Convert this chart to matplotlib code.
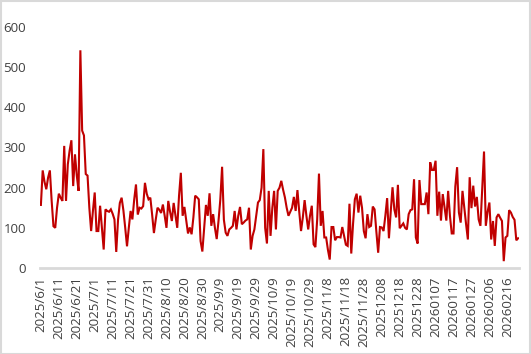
import matplotlib
matplotlib.use("Agg")
import matplotlib.pyplot as plt
from matplotlib.patches import Rectangle
import datetime as dt

start = dt.date(2025, 6, 1)

values = [
    157, 243, 215, 196, 225, 243, 167, 104, 100, 150,
    185, 175, 167, 304, 167, 258, 292, 318, 204, 283,
    230, 192, 542, 342, 330, 234, 230, 150, 92, 142,
    188, 92, 92, 155, 100, 46, 146, 142, 140, 146,
    135, 121, 40, 120, 162, 175, 143, 100, 54, 100,
    142, 121, 170, 208, 133, 150, 148, 154, 212, 185,
    171, 175, 133, 87, 120, 150, 145, 137, 158, 130,
    100, 167, 140, 117, 162, 130, 100, 180, 237, 130,
    152, 120, 86, 101, 84, 126, 180, 176, 171, 67,
    41, 100, 157, 130, 186, 105, 134, 100, 72, 117,
    170, 252, 120, 88, 80, 96, 100, 105, 142, 96,
    130, 152, 109, 113, 118, 121, 150, 46, 80, 96,
    130, 163, 169, 200, 296, 100, 61, 192, 80, 150,
    192, 96, 192, 200, 217, 195, 176, 150, 130, 140,
    150, 177, 142, 194, 140, 92, 126, 169, 130, 96,
    130, 155, 59, 52, 120, 235, 105, 142, 76, 76,
    45, 21, 102, 102, 69, 77, 77, 76, 102, 80,
    58, 55, 160, 36, 110, 171, 185, 138, 180, 150,
    92, 74, 134, 102, 105, 153, 146, 90, 38, 102,
    101, 92, 130, 174, 74, 140, 201, 146, 126, 207,
    99, 105, 111, 100, 96, 134, 144, 146, 221, 76,
    61, 219, 159, 159, 159, 188, 134, 263, 244, 244,
    267, 130, 190, 118, 184, 150, 118, 192, 130, 86,
    86, 203, 251, 138, 113, 192, 150, 109, 71, 226,
    149, 205, 153, 177, 121, 105, 200, 290, 105, 140,
    163, 71, 117, 55, 126, 134, 125, 117, 17, 76,
    80, 144, 138, 127, 120, 69, 74,
]

dates = [start + dt.timedelta(days=i) for i in range(len(values))]


def fmt(d):
    if d < dt.date(2025, 12, 1):
        return f"{d.year}/{d.month}/{d.day}"
    return d.strftime("%Y%m%d")


labels = [fmt(d) for d in dates]
y_ticks = [0, 100, 200, 300, 400, 500, 600]

plt.rcParams['font.family'] = ['Open Sans', 'DejaVu Sans']

fig = plt.figure(figsize=(5.31, 3.54), dpi=100)
ax = fig.add_axes([40 / 531, (354 - 268) / 354, 479 / 531, (268 - 27) / 354])

x = list(range(len(values)))
ax.plot(x, values, color='#C00000', linewidth=1.5, solid_joinstyle='miter')

ax.set_xlim(-0.5, len(values) - 0.5)
ax.set_ylim(0, 600)
ax.set_yticks(y_ticks)
ax.set_yticklabels([str(v) for v in y_ticks])
tick_pos = x[::10]
ax.set_xticks(tick_pos)
ax.set_xticklabels([labels[i] for i in tick_pos], rotation=90)

for s in ['top', 'right', 'left']:
    ax.spines[s].set_visible(False)
ax.spines['bottom'].set_color('#d9d9d9')
ax.spines['bottom'].set_linewidth(2)
ax.tick_params(axis='both', length=0, labelsize=9.5, labelcolor='#404040')
ax.tick_params(axis='y', pad=10)
ax.tick_params(axis='x', pad=6)

fig.patches.append(Rectangle((0.5 / 531, 0.5 / 354), 1 - 1.5 / 531, 1 - 1.5 / 354,
                             transform=fig.transFigure, fill=False,
                             edgecolor='#d9d9d9', linewidth=1.5))

fig.savefig('out.png', dpi=100)
